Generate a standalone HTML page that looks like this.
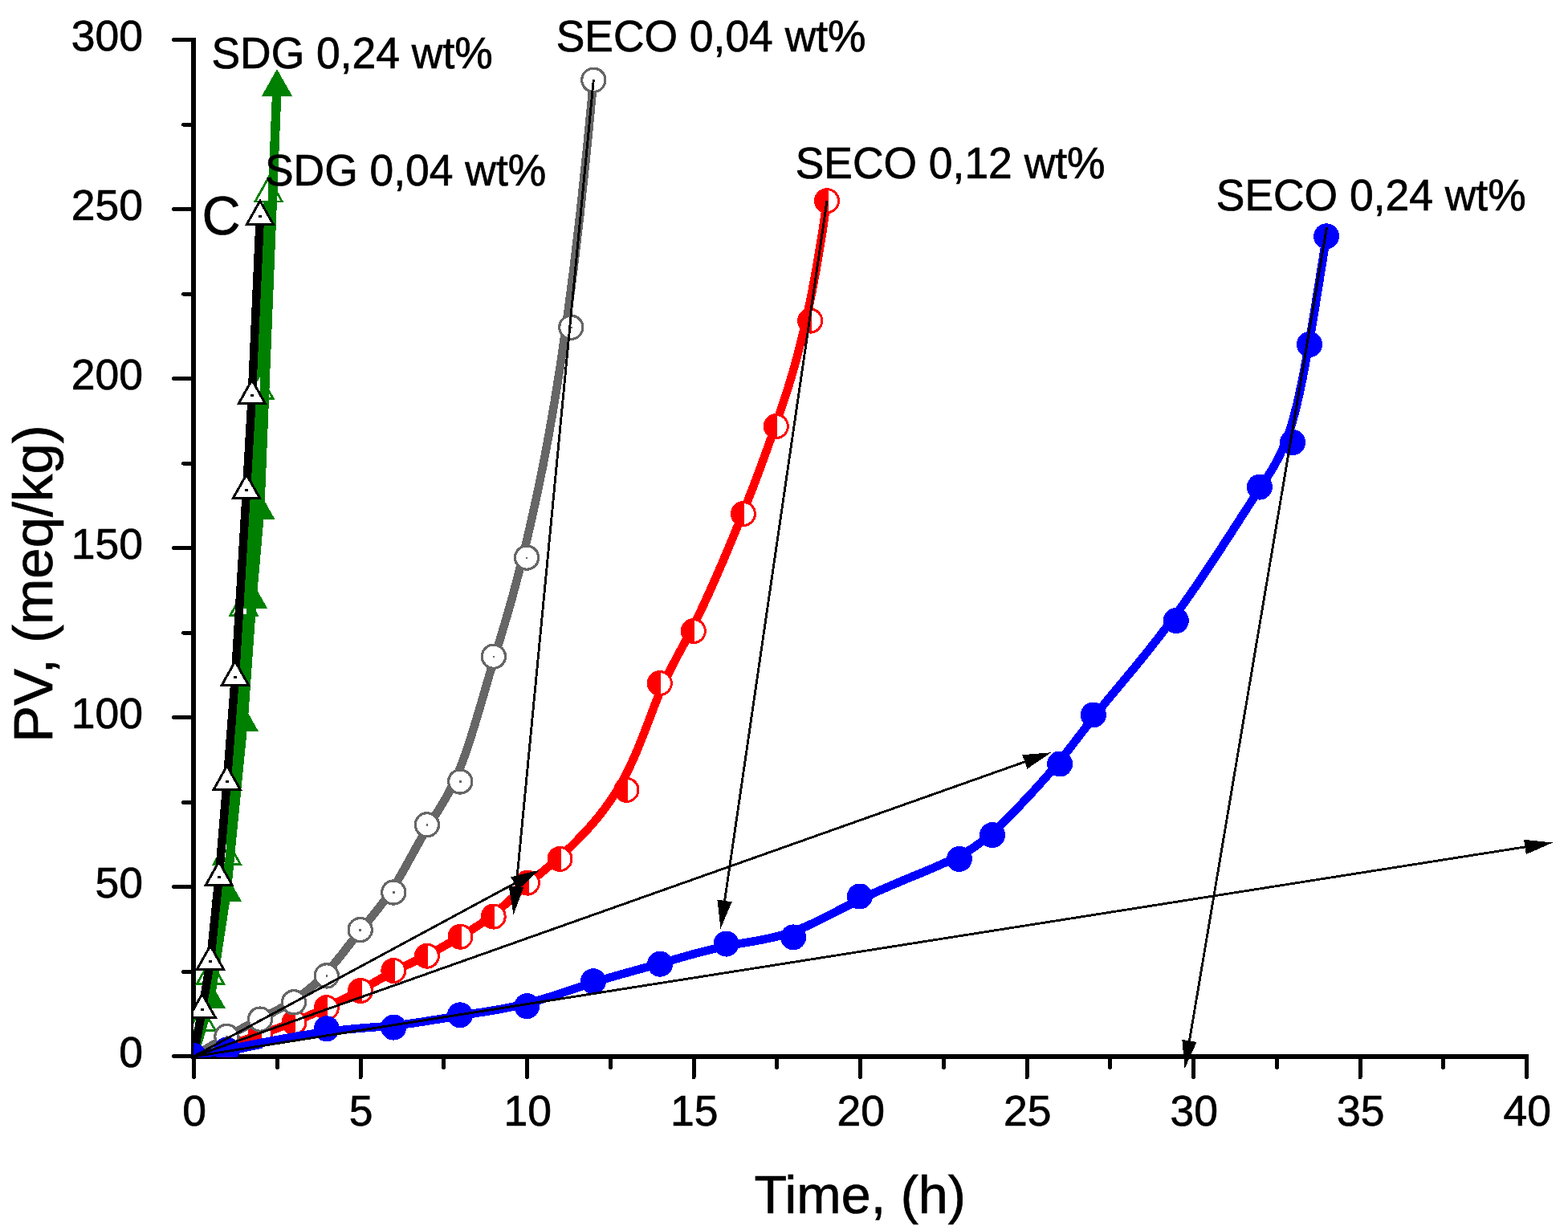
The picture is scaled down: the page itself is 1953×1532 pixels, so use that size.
<!DOCTYPE html>
<html lang="en"><head><meta charset="utf-8"><title>PV vs Time</title>
<style>html,body{margin:0;padding:0;background:#fff;overflow:hidden}svg{display:block}</style>
</head><body>
<svg shape-rendering="crispEdges" width="1953" height="1532" viewBox="0 0 1953 1532" font-family="'Liberation Sans', sans-serif" fill="#000" role="img" aria-label="PV versus time chart">
<rect width="1953" height="1532" fill="#fff"/>
<g stroke="#000" stroke-width="6" fill="none" stroke-linecap="butt"><path d="M241,47.2 V1319" /><path d="M238,1316 H1904" /></g>
<g stroke="#000" stroke-width="5" fill="none" stroke-linecap="round"><path d="M216.6,1315.7 H240"/><path d="M228.6,1210.2 H240"/><path d="M216.6,1104.7 H240"/><path d="M228.6,999.2 H240"/><path d="M216.6,893.7 H240"/><path d="M228.6,788.1 H240"/><path d="M216.6,682.6 H240"/><path d="M228.6,577.1 H240"/><path d="M216.6,471.6 H240"/><path d="M228.6,366.1 H240"/><path d="M216.6,260.6 H240"/><path d="M228.6,155.1 H240"/><path d="M216.6,49.5 H240"/><path d="M241.5,1317 V1341.5"/><path d="M345.2,1317 V1329.5"/><path d="M449,1317 V1341.5"/><path d="M552.8,1317 V1329.5"/><path d="M656.5,1317 V1341.5"/><path d="M760.2,1317 V1329.5"/><path d="M864,1317 V1341.5"/><path d="M967.8,1317 V1329.5"/><path d="M1071.5,1317 V1341.5"/><path d="M1175.2,1317 V1329.5"/><path d="M1279,1317 V1341.5"/><path d="M1382.8,1317 V1329.5"/><path d="M1486.5,1317 V1341.5"/><path d="M1590.2,1317 V1329.5"/><path d="M1694,1317 V1341.5"/><path d="M1797.8,1317 V1329.5"/><path d="M1901.5,1317 V1341.5"/></g>
<defs><clipPath id="pc"><rect x="241" y="0" width="1712" height="1316.8"/></clipPath></defs>
<g clip-path="url(#pc)">
<g><path d="M241,1316 L251.6,1273.7 L262,1215.5 L282.8,1066.7 L303.5,756.5 L323.6,486.8 L334.5,241" fill="none" stroke="#008000" stroke-width="11.5" stroke-linejoin="round"/><path d="M251.6,1254 L234.9,1283.6 L268.3,1283.6 Z" fill="#fff" stroke="#008000" stroke-width="2.8" stroke-linejoin="miter"/><path d="M262,1195.8 L245.3,1225.4 L278.7,1225.4 Z" fill="#fff" stroke="#008000" stroke-width="2.8" stroke-linejoin="miter"/><path d="M282.8,1047 L266.1,1076.6 L299.5,1076.6 Z" fill="#fff" stroke="#008000" stroke-width="2.8" stroke-linejoin="miter"/><path d="M303.5,736.8 L286.8,766.4 L320.2,766.4 Z" fill="#fff" stroke="#008000" stroke-width="2.8" stroke-linejoin="miter"/><path d="M323.6,467.1 L306.9,496.7 L340.3,496.7 Z" fill="#fff" stroke="#008000" stroke-width="2.8" stroke-linejoin="miter"/><path d="M334.5,221.3 L317.8,250.9 L351.2,250.9 Z" fill="#fff" stroke="#008000" stroke-width="2.8" stroke-linejoin="miter"/></g>
<g><path d="M241,1316 L261.8,1244.6 L282,1111.7 L302.9,899.7 L313.9,746.3 L323.6,636 L345,108.5" fill="none" stroke="#008000" stroke-width="11.5" stroke-linejoin="round"/><path d="M261.8,1222.1 L242.7,1255.9 L280.9,1255.9 Z" fill="#008000"/><path d="M282,1089.2 L262.9,1123 L301.1,1123 Z" fill="#008000"/><path d="M302.9,877.2 L283.8,911 L322,911 Z" fill="#008000"/><path d="M313.9,723.8 L294.8,757.6 L333,757.6 Z" fill="#008000"/><path d="M323.6,613.5 L304.5,647.3 L342.7,647.3 Z" fill="#008000"/><path d="M345,86 L325.9,119.8 L364.1,119.8 Z" fill="#008000"/></g>
<g><path d="M241,1316 L251.8,1257.5 L262,1197.4 L272.7,1092.7 L282.7,973.5 L292.9,843.2 L307,610.5 L313.8,492.7 L323.9,269.7" fill="none" stroke="#000000" stroke-width="10.5" stroke-linejoin="round"/><path d="M251.8,1238 L235.3,1267.3 L268.3,1267.3 Z" fill="#fff" stroke="#000000" stroke-width="3" stroke-linejoin="miter"/><rect x="250" y="1256.2" width="3.6" height="2.6" fill="#000000"/><path d="M262,1177.9 L245.5,1207.2 L278.5,1207.2 Z" fill="#fff" stroke="#000000" stroke-width="3" stroke-linejoin="miter"/><rect x="260.2" y="1196.1" width="3.6" height="2.6" fill="#000000"/><path d="M272.7,1073.2 L256.2,1102.5 L289.2,1102.5 Z" fill="#fff" stroke="#000000" stroke-width="3" stroke-linejoin="miter"/><rect x="270.9" y="1091.4" width="3.6" height="2.6" fill="#000000"/><path d="M282.7,954 L266.2,983.3 L299.2,983.3 Z" fill="#fff" stroke="#000000" stroke-width="3" stroke-linejoin="miter"/><rect x="280.9" y="972.2" width="3.6" height="2.6" fill="#000000"/><path d="M292.9,823.7 L276.4,853 L309.4,853 Z" fill="#fff" stroke="#000000" stroke-width="3" stroke-linejoin="miter"/><rect x="291.1" y="841.9" width="3.6" height="2.6" fill="#000000"/><path d="M307,591 L290.5,620.3 L323.5,620.3 Z" fill="#fff" stroke="#000000" stroke-width="3" stroke-linejoin="miter"/><rect x="305.2" y="609.2" width="3.6" height="2.6" fill="#000000"/><path d="M313.8,473.2 L297.3,502.5 L330.3,502.5 Z" fill="#fff" stroke="#000000" stroke-width="3" stroke-linejoin="miter"/><rect x="312" y="491.4" width="3.6" height="2.6" fill="#000000"/><path d="M323.9,250.2 L307.4,279.5 L340.4,279.5 Z" fill="#fff" stroke="#000000" stroke-width="3" stroke-linejoin="miter"/><rect x="322.1" y="268.4" width="3.6" height="2.6" fill="#000000"/></g>
<g><path d="M241,1316 L252.9,1312.3 L263.6,1308.9 L273.3,1305.7 L282,1302.9 L290,1300.2 L297.2,1297.8 L303.8,1295.6 L309.9,1293.5 L315.6,1291.5 L321,1289.6 L326.1,1287.8 L331.1,1286 L335.9,1284.3 L340.5,1282.6 L345,1281 L349.4,1279.3 L353.7,1277.7 L357.9,1276.1 L362.1,1274.5 L366.2,1272.8 L370.3,1271.1 L374.4,1269.4 L378.5,1267.7 L382.6,1265.9 L386.7,1264.1 L390.7,1262.3 L394.8,1260.4 L398.9,1258.6 L403,1256.6 L407.1,1254.7 L411.3,1252.7 L415.4,1250.7 L419.6,1248.6 L423.7,1246.6 L427.9,1244.5 L432.1,1242.3 L436.3,1240.1 L440.5,1237.9 L444.7,1235.7 L448.9,1233.4 L453,1231 L457.2,1228.7 L461.3,1226.3 L465.5,1223.9 L469.6,1221.6 L473.8,1219.2 L477.9,1216.9 L482.1,1214.6 L486.2,1212.3 L490.4,1210.1 L494.5,1208 L498.6,1205.9 L502.8,1203.9 L507,1201.9 L511.1,1199.9 L515.3,1197.9 L519.4,1195.9 L523.6,1193.9 L527.7,1191.8 L531.9,1189.8 L536.1,1187.6 L540.2,1185.4 L544.4,1183.2 L548.5,1180.9 L552.7,1178.6 L556.8,1176.2 L561,1173.8 L565.1,1171.4 L569.3,1169 L573.4,1166.5 L577.6,1164.1 L581.7,1161.6 L585.8,1159 L590,1156.4 L594.1,1153.8 L598.3,1151 L602.4,1148.2 L606.6,1145.2 L610.7,1142.1 L614.9,1138.8 L619.1,1135.3 L623.3,1131.8 L627.4,1128.1 L631.6,1124.3 L635.8,1120.5 L640,1116.7 L644.2,1112.8 L648.4,1109 L652.6,1105.3 L656.7,1101.7 L660.8,1098.1 L665,1094.6 L669.2,1091.1 L673.6,1087.6 L678.1,1083.8 L682.8,1079.9 L687.8,1075.6 L693,1071.1 L698.6,1066 L704.6,1060.5 L711,1054.5 L717.7,1047.8 L724.6,1040.7 L731.8,1033 L739,1024.8 L746.3,1016 L753.4,1006.8 L760.4,997 L767.1,986.8 L773.5,976.1 L779.6,964.9 L785.2,953.4 L790.5,941.7 L795.5,929.8 L800.3,917.9 L804.9,906.1 L809.3,894.5 L813.5,883.3 L817.7,872.5 L821.9,862.3 L826.1,852.7 L830.3,843.7 L834.5,835 L838.8,826.6 L843.2,818.2 L847.7,809.8 L852.4,801.2 L857.1,792.2 L862,782.7 L867.1,772.5 L872.4,761.6 L877.9,749.9 L883.5,737.7 L889.1,725.1 L894.8,712.1 L900.5,698.9 L906.1,685.6 L911.7,672.2 L917.1,659.1 L922.4,646.2 L927.4,633.6 L932.3,621.2 L937.1,609 L941.7,596.8 L946.4,584.4 L951,571.8 L955.7,558.8 L960.5,545.3 L965.5,531.2 L970.6,516.3 L975.9,500.5 L981.5,483.4 L987.2,464.5 L993,443.6 L999,420.1 L1005.1,393.7 L1011.3,363.9 L1017.5,330.3 L1023.8,292.6 L1030,250.2" fill="none" stroke="#ff0000" stroke-width="10.5" stroke-linejoin="round"/><circle cx="282.5" cy="1303" r="14.5" fill="#fff" stroke="#ff0000" stroke-width="3"/><path d="M282.5,1287 A16,16 0 0 0 282.5,1319 H284 V1287 Z" fill="#ff0000"/><circle cx="324.5" cy="1288.5" r="14.5" fill="#fff" stroke="#ff0000" stroke-width="3"/><path d="M324.5,1272.5 A16,16 0 0 0 324.5,1304.5 H326 V1272.5 Z" fill="#ff0000"/><circle cx="366.5" cy="1273.3" r="14.5" fill="#fff" stroke="#ff0000" stroke-width="3"/><path d="M366.5,1257.3 A16,16 0 0 0 366.5,1289.3 H368 V1257.3 Z" fill="#ff0000"/><circle cx="406.8" cy="1255.2" r="14.5" fill="#fff" stroke="#ff0000" stroke-width="3"/><path d="M406.8,1239.2 A16,16 0 0 0 406.8,1271.2 H408.3 V1239.2 Z" fill="#ff0000"/><circle cx="449" cy="1234" r="14.5" fill="#fff" stroke="#ff0000" stroke-width="3"/><path d="M449,1218 A16,16 0 0 0 449,1250 H450.5 V1218 Z" fill="#ff0000"/><circle cx="490.3" cy="1209" r="14.5" fill="#fff" stroke="#ff0000" stroke-width="3"/><path d="M490.3,1193 A16,16 0 0 0 490.3,1225 H491.8 V1193 Z" fill="#ff0000"/><circle cx="531.9" cy="1190.7" r="14.5" fill="#fff" stroke="#ff0000" stroke-width="3"/><path d="M531.9,1174.7 A16,16 0 0 0 531.9,1206.7 H533.4 V1174.7 Z" fill="#ff0000"/><circle cx="573.5" cy="1166.7" r="14.5" fill="#fff" stroke="#ff0000" stroke-width="3"/><path d="M573.5,1150.7 A16,16 0 0 0 573.5,1182.7 H575 V1150.7 Z" fill="#ff0000"/><circle cx="614.7" cy="1141.6" r="14.5" fill="#fff" stroke="#ff0000" stroke-width="3"/><path d="M614.7,1125.6 A16,16 0 0 0 614.7,1157.6 H616.2 V1125.6 Z" fill="#ff0000"/><circle cx="657" cy="1099.6" r="14.5" fill="#fff" stroke="#ff0000" stroke-width="3"/><path d="M657,1083.6 A16,16 0 0 0 657,1115.6 H658.5 V1083.6 Z" fill="#ff0000"/><circle cx="697.5" cy="1069.9" r="14.5" fill="#fff" stroke="#ff0000" stroke-width="3"/><path d="M697.5,1053.9 A16,16 0 0 0 697.5,1085.9 H699 V1053.9 Z" fill="#ff0000"/><circle cx="780.5" cy="983.9" r="14.5" fill="#fff" stroke="#ff0000" stroke-width="3"/><path d="M780.5,967.9 A16,16 0 0 0 780.5,999.9 H782 V967.9 Z" fill="#ff0000"/><circle cx="821.8" cy="851" r="14.5" fill="#fff" stroke="#ff0000" stroke-width="3"/><path d="M821.8,835 A16,16 0 0 0 821.8,867 H823.3 V835 Z" fill="#ff0000"/><circle cx="863.8" cy="786" r="14.5" fill="#fff" stroke="#ff0000" stroke-width="3"/><path d="M863.8,770 A16,16 0 0 0 863.8,802 H865.3 V770 Z" fill="#ff0000"/><circle cx="925.9" cy="640" r="14.5" fill="#fff" stroke="#ff0000" stroke-width="3"/><path d="M925.9,624 A16,16 0 0 0 925.9,656 H927.4 V624 Z" fill="#ff0000"/><circle cx="966.8" cy="531" r="14.5" fill="#fff" stroke="#ff0000" stroke-width="3"/><path d="M966.8,515 A16,16 0 0 0 966.8,547 H968.3 V515 Z" fill="#ff0000"/><circle cx="1009.2" cy="399.5" r="14.5" fill="#fff" stroke="#ff0000" stroke-width="3"/><path d="M1009.2,383.5 A16,16 0 0 0 1009.2,415.5 H1010.7 V383.5 Z" fill="#ff0000"/><circle cx="1030" cy="250.2" r="14.5" fill="#fff" stroke="#ff0000" stroke-width="3"/><path d="M1030,234.2 A16,16 0 0 0 1030,266.2 H1031.5 V234.2 Z" fill="#ff0000"/></g>
<g><path d="M241,1316 L252.8,1308.8 L263.5,1302.4 L273.2,1296.7 L281.9,1291.7 L289.8,1287.3 L297,1283.3 L303.6,1279.8 L309.6,1276.6 L315.3,1273.7 L320.6,1271 L325.7,1268.4 L330.7,1265.8 L335.4,1263.4 L340.1,1260.9 L344.5,1258.5 L348.9,1256.1 L353.2,1253.7 L357.5,1251.2 L361.7,1248.6 L365.8,1246 L369.9,1243.2 L374.1,1240.3 L378.2,1237.3 L382.3,1234.1 L386.4,1230.7 L390.5,1227.2 L394.6,1223.4 L398.7,1219.5 L402.9,1215.3 L407,1210.9 L411.1,1206.3 L415.3,1201.5 L419.4,1196.5 L423.6,1191.3 L427.8,1186.1 L431.9,1180.7 L436.1,1175.4 L440.3,1170 L444.5,1164.7 L448.7,1159.5 L452.8,1154.3 L457,1149.2 L461.2,1144.2 L465.3,1139 L469.5,1133.8 L473.7,1128.5 L477.8,1123 L482,1117.2 L486.1,1111.2 L490.3,1104.8 L494.5,1098.1 L498.6,1091.1 L502.8,1083.8 L506.9,1076.4 L511.1,1068.8 L515.2,1061.3 L519.4,1053.7 L523.6,1046.3 L527.7,1039 L531.9,1032 L536,1025.2 L540.1,1018.6 L544.3,1012 L548.4,1005.4 L552.6,998.5 L556.7,991.3 L560.8,983.5 L565,975.2 L569.1,966.1 L573.3,956.1 L577.4,945.1 L581.6,933.3 L585.7,920.7 L589.9,907.5 L594,893.8 L598.2,879.7 L602.4,865.5 L606.5,851.1 L610.7,836.8 L614.8,822.8 L619,808.9 L623.2,795.1 L627.4,780.9 L631.8,766 L636.4,750 L641.1,732.7 L646.1,713.7 L651.4,692.7 L657,669.2 L663,643 L669.4,613.7 L676.2,580.6 L683.3,543.1 L690.7,500.5 L698.4,452.1 L706.3,397.3 L714.4,335.2 L722.6,265.4 L730.9,187 L739.3,99.4" fill="none" stroke="#666666" stroke-width="10.5" stroke-linejoin="round"/><circle cx="282.4" cy="1290.9" r="14.6" fill="#fff" stroke="#666666" stroke-width="3.2"/><rect x="281.1" y="1289.8" width="2.6" height="2.6" fill="#666666"/><circle cx="324" cy="1269.6" r="14.6" fill="#fff" stroke="#666666" stroke-width="3.2"/><rect x="322.7" y="1268.5" width="2.6" height="2.6" fill="#666666"/><circle cx="366" cy="1248.3" r="14.6" fill="#fff" stroke="#666666" stroke-width="3.2"/><rect x="364.7" y="1247.2" width="2.6" height="2.6" fill="#666666"/><circle cx="406.8" cy="1215.4" r="14.6" fill="#fff" stroke="#666666" stroke-width="3.2"/><rect x="405.5" y="1214.3" width="2.6" height="2.6" fill="#666666"/><circle cx="448.7" cy="1158.1" r="14.6" fill="#fff" stroke="#666666" stroke-width="3.2"/><rect x="447.4" y="1157" width="2.6" height="2.6" fill="#666666"/><circle cx="490.3" cy="1111.5" r="14.6" fill="#fff" stroke="#666666" stroke-width="3.2"/><rect x="489" y="1110.4" width="2.6" height="2.6" fill="#666666"/><circle cx="531.9" cy="1027.3" r="14.6" fill="#fff" stroke="#666666" stroke-width="3.2"/><rect x="530.6" y="1026.2" width="2.6" height="2.6" fill="#666666"/><circle cx="573.2" cy="973.5" r="14.6" fill="#fff" stroke="#666666" stroke-width="3.2"/><rect x="571.9" y="972.4" width="2.6" height="2.6" fill="#666666"/><circle cx="614.9" cy="817.7" r="14.6" fill="#fff" stroke="#666666" stroke-width="3.2"/><rect x="613.6" y="816.6" width="2.6" height="2.6" fill="#666666"/><circle cx="656.1" cy="694.6" r="14.6" fill="#fff" stroke="#666666" stroke-width="3.2"/><rect x="654.8" y="693.5" width="2.6" height="2.6" fill="#666666"/><circle cx="711.3" cy="407.8" r="14.6" fill="#fff" stroke="#666666" stroke-width="3.2"/><rect x="710" y="406.7" width="2.6" height="2.6" fill="#666666"/><circle cx="739.3" cy="99.8" r="14.6" fill="#fff" stroke="#666666" stroke-width="3.2"/><rect x="738" y="98.7" width="2.6" height="2.6" fill="#666666"/></g>
<g><path d="M282.4,1309.7 L326,1300.4" fill="none" stroke="#0000ff" stroke-width="10.5" stroke-linejoin="round"/><path d="M241,1315.5 L254,1313 L268,1310.2 L282.9,1307.2 L298.2,1304.2 L314,1301.1 L329.8,1298 L345.5,1295.1 L360.8,1292.3 L375.6,1289.8 L389.6,1287.6 L402.6,1285.7 L414.7,1284.2 L426,1282.9 L436.5,1281.8 L446.4,1280.9 L455.8,1280.2 L464.7,1279.5 L473.4,1278.8 L481.8,1278.1 L490.2,1277.3 L498.5,1276.4 L506.8,1275.4 L515.1,1274.3 L523.4,1273 L531.6,1271.8 L539.9,1270.4 L548.2,1269.1 L556.5,1267.7 L564.8,1266.3 L573.1,1265 L581.4,1263.7 L589.7,1262.4 L598,1261.1 L606.3,1259.8 L614.6,1258.4 L623,1257 L631.3,1255.4 L639.6,1253.7 L647.9,1251.9 L656.2,1249.9 L664.5,1247.7 L672.8,1245.3 L681.1,1242.8 L689.4,1240.2 L697.6,1237.5 L705.9,1234.7 L714.2,1232 L722.5,1229.2 L730.8,1226.5 L739.1,1223.8 L747.4,1221.2 L755.7,1218.7 L764,1216.3 L772.3,1213.9 L780.6,1211.6 L788.9,1209.3 L797.2,1207 L805.5,1204.7 L813.8,1202.4 L822.1,1200.1 L830.3,1197.8 L838.6,1195.4 L846.9,1193 L855.1,1190.7 L863.4,1188.4 L871.7,1186.2 L879.9,1184.1 L888.2,1182.1 L896.5,1180.2 L904.8,1178.4 L913.1,1176.8 L921.4,1175.3 L929.7,1173.9 L938,1172.5 L946.4,1171 L954.7,1169.3 L963,1167.5 L971.3,1165.4 L979.7,1163 L988,1160.3 L996.3,1157.1 L1004.7,1153.6 L1013.1,1149.7 L1021.6,1145.5 L1030.3,1141.2 L1039.3,1136.6 L1048.4,1131.8 L1057.9,1127 L1067.6,1122.1 L1077.8,1117.2 L1088.3,1112.4 L1099.1,1107.6 L1110.1,1102.8 L1121.1,1098.2 L1132,1093.6 L1142.8,1089.2 L1153.2,1084.9 L1163.1,1080.7 L1172.4,1076.6 L1181.1,1072.7 L1189,1069 L1196.1,1065.3 L1202.7,1061.7 L1208.9,1058 L1214.7,1054.1 L1220.3,1050.1 L1225.8,1045.8 L1231.4,1041.1 L1237.2,1035.9 L1243.2,1030.3 L1249.7,1024.1 L1256.5,1017.4 L1263.6,1010.3 L1270.8,1002.8 L1278.1,995.1 L1285.4,987.3 L1292.7,979.4 L1299.7,971.5 L1306.6,963.7 L1313,956.1 L1319.1,948.7 L1324.9,941.6 L1330.5,934.5 L1335.9,927.5 L1341.3,920.4 L1346.9,913.2 L1352.6,905.7 L1358.6,897.9 L1365.1,889.8 L1372,881.1 L1379.5,871.9 L1387.6,862.1 L1396.2,851.8 L1405.2,841 L1414.6,829.6 L1424.3,817.7 L1434.2,805.3 L1444.4,792.3 L1454.6,778.9 L1465,764.9 L1475.3,750.5 L1485.6,735.8 L1495.8,720.8 L1505.8,705.9 L1515.6,691.1 L1525,676.7 L1534.1,662.7 L1542.7,649.3 L1550.8,636.7 L1558.4,625.1 L1565.4,614.5 L1571.8,604.8 L1577.6,595.7 L1583,587 L1588,578.5 L1592.6,569.8 L1596.9,560.9 L1600.9,551.4 L1604.8,541.1 L1608.5,529.8 L1612,517.1 L1615.6,502.9 L1619.2,486.8 L1623,468.5 L1626.9,447.6 L1631.1,423.9 L1635.7,397 L1640.6,366.7 L1646.1,332.6 L1652.1,294.3" fill="none" stroke="#0000ff" stroke-width="10.5" stroke-linejoin="round"/><circle cx="241" cy="1315" r="16" fill="#0000ff"/><circle cx="282.4" cy="1307.5" r="16" fill="#0000ff"/><circle cx="406.8" cy="1281.3" r="16" fill="#0000ff"/><circle cx="490.3" cy="1279.6" r="16" fill="#0000ff"/><circle cx="573" cy="1264.3" r="16" fill="#0000ff"/><circle cx="656.3" cy="1253.2" r="16" fill="#0000ff"/><circle cx="739" cy="1222.2" r="16" fill="#0000ff"/><circle cx="822.2" cy="1200.7" r="16" fill="#0000ff"/><circle cx="904.6" cy="1175.6" r="16" fill="#0000ff"/><circle cx="988.1" cy="1167.4" r="16" fill="#0000ff"/><circle cx="1070.9" cy="1116.5" r="16" fill="#0000ff"/><circle cx="1194.9" cy="1069.9" r="16" fill="#0000ff"/><circle cx="1236.1" cy="1040.1" r="16" fill="#0000ff"/><circle cx="1320.1" cy="951.5" r="16" fill="#0000ff"/><circle cx="1361.8" cy="890.5" r="16" fill="#0000ff"/><circle cx="1464.8" cy="773.1" r="16" fill="#0000ff"/><circle cx="1568.9" cy="606.6" r="16" fill="#0000ff"/><circle cx="1610.1" cy="551" r="16" fill="#0000ff"/><circle cx="1631" cy="429" r="16" fill="#0000ff"/><circle cx="1652.1" cy="294.3" r="16" fill="#0000ff"/></g>
</g>
<g font-size="53.5" text-anchor="end" stroke="#000" stroke-width="0.7">
<text x="178" y="1329.2">0</text>
<text x="178" y="1118.2">50</text>
<text x="178" y="907.2">100</text>
<text x="178" y="696.1">150</text>
<text x="178" y="485.1">200</text>
<text x="178" y="274.1">250</text>
<text x="178" y="63">300</text>
</g>
<g font-size="53.5" text-anchor="middle" stroke="#000" stroke-width="0.7">
<text x="242.2" y="1402">0</text>
<text x="449.7" y="1402">5</text>
<text x="657.2" y="1402">10</text>
<text x="864.7" y="1402">15</text>
<text x="1072.2" y="1402">20</text>
<text x="1279.7" y="1402">25</text>
<text x="1487.2" y="1402">30</text>
<text x="1694.7" y="1402">35</text>
<text x="1902.2" y="1402">40</text>
</g>
<text transform="translate(1071.2,1511) scale(1.0,1.005)" font-size="66.5" text-anchor="middle" stroke="#000" stroke-width="0.7">Time, (h)</text>
<text transform="translate(65,727) rotate(-90) scale(1.035,1.02)" font-size="66.5" text-anchor="middle" stroke="#000" stroke-width="0.7">PV, (meq/kg)</text>
<line x1="241" y1="1316" x2="642.5" y2="1099.5" stroke="#000" stroke-width="2.9"/><path d="M671.5,1083.8 L645.1,1108.6 L636.3,1092.3 Z" fill="#000"/>
<line x1="241" y1="1316" x2="1278.3" y2="948.2" stroke="#000" stroke-width="2.9"/><path d="M1309.4,937.2 L1279.5,957.6 L1273.3,940.2 Z" fill="#000"/>
<line x1="241" y1="1316" x2="1901.4" y2="1054.6" stroke="#000" stroke-width="2.9"/><path d="M1934,1049.5 L1900.9,1064.1 L1898,1045.8 Z" fill="#000"/>
<line x1="739.3" y1="99.4" x2="642.7" y2="1106.7" stroke="#000" stroke-width="2.9"/><path d="M639.5,1139.5 L633.6,1103.8 L652.1,1105.5 Z" fill="#000"/>
<line x1="1030" y1="250.2" x2="902.3" y2="1123.9" stroke="#000" stroke-width="2.9"/><path d="M897.5,1156.6 L893.4,1120.6 L911.7,1123.3 Z" fill="#000"/>
<line x1="1652.5" y1="283" x2="1481.1" y2="1298.5" stroke="#000" stroke-width="2.9"/><path d="M1475.6,1331 L1472.3,1294.9 L1490.5,1298 Z" fill="#000"/>
<text transform="translate(263.5,84.8) scale(1.0,1.05)" font-size="53.4" text-anchor="start" stroke="#000" stroke-width="0.7">SDG 0,24 wt%</text>
<text transform="translate(330,231) scale(1.0,1.05)" font-size="53.4" text-anchor="start" stroke="#000" stroke-width="0.7">SDG 0,04 wt%</text>
<text transform="translate(251.5,292) scale(1.0,1.03)" font-size="66.5" text-anchor="start" stroke="#000" stroke-width="0.7">C</text>
<text transform="translate(692.7,64) scale(1.0,1.05)" font-size="53.4" text-anchor="start" stroke="#000" stroke-width="0.7">SECO 0,04 wt%</text>
<text transform="translate(990.7,222) scale(1.0,1.05)" font-size="53.4" text-anchor="start" stroke="#000" stroke-width="0.7">SECO 0,12 wt%</text>
<text transform="translate(1514.8,262) scale(1.0,1.05)" font-size="53.4" text-anchor="start" stroke="#000" stroke-width="0.7">SECO 0,24 wt%</text>
</svg>
</body></html>
